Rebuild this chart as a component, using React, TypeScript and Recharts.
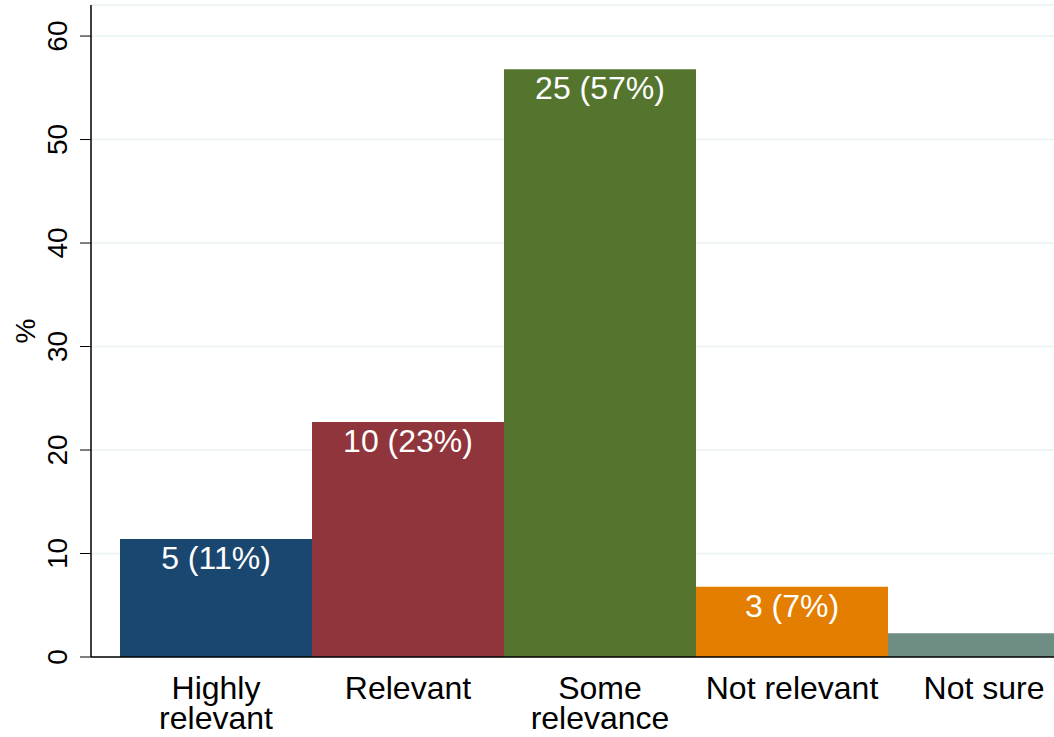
import React from 'react';
import { BarChart, Bar, XAxis, YAxis, CartesianGrid, Cell, LabelList } from 'recharts';

// Responses per relevance category
const categories = ['Highly relevant', 'Relevant', 'Some relevance', 'Not relevant', 'Not sure'];
const counts = [5, 10, 25, 3, 1];
const percents = [11.4, 22.7, 56.8, 6.8, 2.3];
const barLabels = ['5 (11%)', '10 (23%)', '25 (57%)', '3 (7%)', ''];
const yTicks = [0, 10, 20, 30, 40, 50, 60];

// Stata s2color palette
const colors = ['#1a476f', '#90353b', '#55752f', '#e37e00', '#6e8e84'];

const FONT = '"Liberation Sans", Arial, sans-serif';

const chartData = categories.map((name, i) => ({
  name,
  count: counts[i],
  pct: percents[i],
  label: barLabels[i],
}));

const YTick = (props: any) => {
  const { x, y, payload } = props;
  const bx = x - 11;
  return (
    <text
      x={bx}
      y={y}
      transform={`rotate(-90, ${bx}, ${y})`}
      textAnchor="middle"
      fontSize={28}
      fontFamily={FONT}
      fill="#000"
    >
      {payload.value}
    </text>
  );
};

const XTick = (props: any) => {
  const { x, y, payload } = props;
  const words: string[] = payload.value.split(' ');
  // two-line labels only where the words don't fit in one band
  const lines =
    payload.value === 'Highly relevant' || payload.value === 'Some relevance' ? words : [payload.value];
  return (
    <text x={x} y={y} textAnchor="middle" fontSize={32} fontFamily={FONT} fill="#000">
      {lines.map((line, i) => (
        <tspan key={i} x={x} y={y + 34 + i * 30}>
          {line}
        </tspan>
      ))}
    </text>
  );
};

const BarValue = (props: any) => {
  const { x, y, width, value } = props;
  if (!value) return null;
  return (
    <text
      x={x + width / 2}
      y={y + 30}
      textAnchor="middle"
      fontSize={32}
      fontFamily={FONT}
      fill="#fff"
    >
      {value}
    </text>
  );
};

export default function App() {
  return (
    <div
      style={{
        position: 'absolute',
        top: 0,
        left: 0,
        width: 1054,
        height: 737,
        overflow: 'hidden',
        background: '#fff',
      }}
    >
      <BarChart
        width={1109}
        height={737}
        data={chartData}
        margin={{ top: 5, right: 0, left: 0, bottom: 0 }}
        barCategoryGap={0}
      >
        <CartesianGrid vertical={false} stroke="#eaf2f3" strokeWidth={1.5} />
        <XAxis
          dataKey="name"
          height={80}
          padding={{ left: 29, right: 29 }}
          tickLine={false}
          axisLine={{ stroke: '#000', strokeWidth: 1.5 }}
          tick={<XTick />}
          interval={0}
        />
        <YAxis
          width={91}
          domain={[0, 63]}
          ticks={yTicks}
          tickSize={11}
          tickLine={{ stroke: '#000' }}
          axisLine={{ stroke: '#000', strokeWidth: 1.5 }}
          tick={<YTick />}
          label={{
            value: '%',
            angle: -90,
            position: 'insideLeft',
            offset: 25,
            style: { fontSize: 28, fontFamily: FONT, fill: '#000', textAnchor: 'middle' },
          }}
        />
        <Bar dataKey="pct" isAnimationActive={false}>
          {chartData.map((d, i) => (
            <Cell key={d.name} fill={colors[i]} />
          ))}
          <LabelList dataKey="label" content={<BarValue />} />
        </Bar>
      </BarChart>
    </div>
  );
}
